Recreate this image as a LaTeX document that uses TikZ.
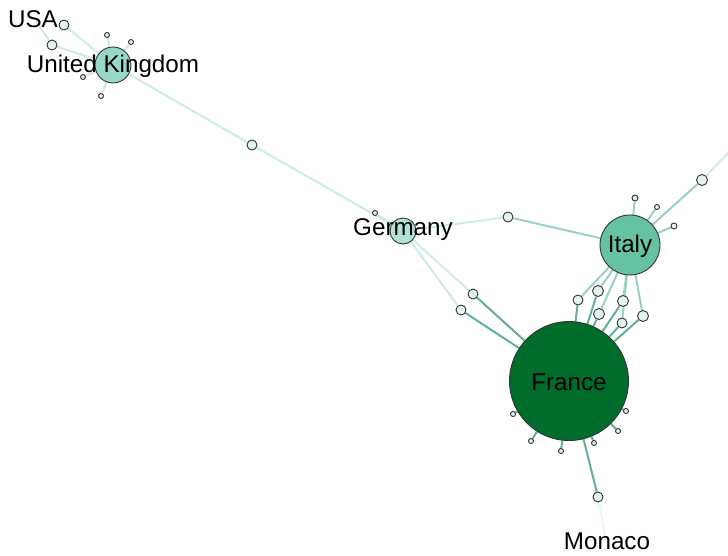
\documentclass[tikz,border=0pt]{standalone}
\usepackage{fontspec}
\setmainfont{Liberation Sans}
\definecolor{leafc}{HTML}{E2F4F2}
\definecolor{ukc}{HTML}{99D8C9}
\definecolor{gec}{HTML}{B2E2D5}
\definecolor{itc}{HTML}{66C2A4}
\definecolor{frc}{HTML}{006D2C}
\definecolor{eA}{HTML}{CCECE6}
\definecolor{eB}{HTML}{99D2BE}
\definecolor{eC}{HTML}{62B38C}
\definecolor{eD}{HTML}{E5F5F9}
\pgfdeclarelayer{bg}
\pgfsetlayers{bg,main}
\tikzset{
  nd/.style={circle, draw=black!80, line width=0.9pt, inner sep=0pt, minimum size=#1},
  leaf/.style={nd=#1, fill=leafc},
  lbl/.style={font=\fontsize{24.2}{27}\selectfont, text=black, inner sep=0pt},
  ea/.style={draw=eA, line width=2pt},
  eb/.style={draw=eB, line width=2pt},
  ec/.style={draw=eC, line width=2pt},
  ed/.style={draw=eD, line width=2pt},
}
\begin{document}
\begin{tikzpicture}[x=1pt,y=-1pt]
\useasboundingbox (0,0) rectangle (728,555);
% hubs
\node[nd=36pt, fill=ukc] (uk) at (113,65) {};
\node[nd=26pt, fill=gec] (ge) at (403,231) {};
\node[nd=60pt, fill=itc] (it) at (630,245) {};
\node[nd=119pt, fill=frc] (fr) at (569,381) {};
% USA area
\coordinate (usa) at (36,21);
\node[leaf=10pt] (u1) at (52,45) {};
\node[leaf=10pt] (u2) at (64,25) {};
% UK leaves
\node[leaf=5pt] (k1) at (107,35) {};
\node[leaf=5pt] (k2) at (131,42) {};
\node[leaf=5pt] (k3) at (83,77) {};
\node[leaf=5pt] (k4) at (101,96) {};
% UK - Germany
\node[leaf=10pt] (m1) at (252,145) {};
\node[leaf=5pt] (g1) at (375,213) {};
% Germany - Italy
\node[leaf=10pt] (m2) at (508,217) {};
% Germany - France
\node[leaf=10pt] (gf1) at (473,294) {};
\node[leaf=10pt] (gf2) at (461,310) {};
% Italy leaves
\node[leaf=6pt] (i1) at (635,198) {};
\node[leaf=5pt] (i2) at (657,207) {};
\node[leaf=6pt] (i3) at (674,226) {};
\node[leaf=11pt] (i4) at (702,180) {};
\coordinate (iout) at (730,151);
% Italy - France
\node[leaf=10pt] (if1) at (578,300) {};
\node[leaf=11pt] (if2) at (598,291) {};
\node[leaf=11pt] (if3) at (599,314) {};
\node[leaf=11pt] (if4) at (623,301) {};
\node[leaf=10pt] (if5) at (622,323) {};
\node[leaf=11pt] (if6) at (643,316) {};
% France leaves
\node[leaf=5pt] (f1) at (513,414) {};
\node[leaf=5pt] (f2) at (531,441) {};
\node[leaf=5pt] (f3) at (561,451) {};
\node[leaf=5pt] (f4) at (594,443) {};
\node[leaf=5pt] (f5) at (618,431) {};
\node[leaf=5pt] (f6) at (626,411) {};
% Monaco
\node[leaf=10pt] (mo1) at (598,497) {};
\coordinate (mo) at (606,540);
\begin{pgfonlayer}{bg}
\draw[ea] (usa) -- (u1);
\draw[ea] (u1) -- (uk);
\draw[ea] (u2) -- (uk);
\foreach \k in {k1,k2,k3,k4} \draw[ea] (\k) -- (uk);
\draw[ea] (uk) -- (m1);
\draw[ea] (m1) -- (ge);
\draw[ea] (g1) -- (ge);
\draw[ea] (ge) -- (m2);
\draw[eb] (m2) -- (it);
\draw[ea] (ge) -- (gf1);
\draw[ea] (ge) -- (gf2);
\draw[ec] (gf1) -- (fr);
\draw[ec] (gf2) -- (fr);
\foreach \k in {i1,i2,i3,i4} \draw[eb] (\k) -- (it);
\draw[ea] (i4) -- (iout);
\foreach \k in {if1,if2,if3,if4,if5,if6} {
  \draw[eb] (it) -- (\k);
  \draw[ec] (\k) -- (fr);
}
\foreach \k in {f1,f2,f3,f4,f5,f6} \draw[ec] (\k) -- (fr);
\draw[ec] (fr) -- (mo1);
\draw[ed] (mo1) -- (mo);
\end{pgfonlayer}
% labels
\node[lbl] (tusa) at (33,19) {USA};
\node[lbl] (tuk) at (113,66.5) {United Kingdom};
\node[lbl] (tge) at (403,229.5) {Germany};
\node[lbl] (tit) at (630,246.5) {Italy};
\node[lbl] (tfr) at (569,382.5) {France};
\node[lbl] (tmo) at (607,541) {Monaco};
\end{tikzpicture}
\end{document}
